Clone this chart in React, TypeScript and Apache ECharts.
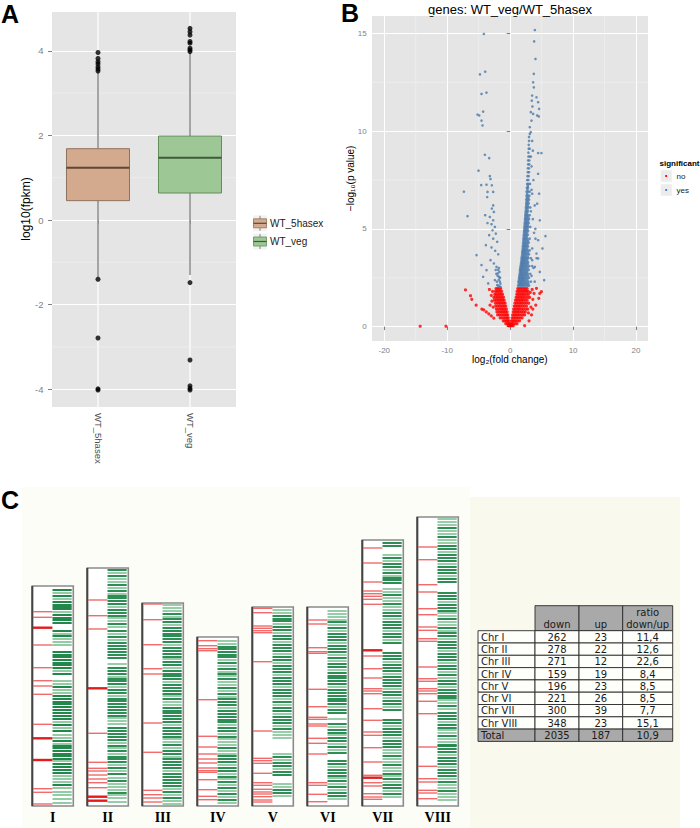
import React, { useEffect, useRef } from 'react';
import * as echarts from 'echarts';

// ---------- Panel A : boxplot ----------
const boxCategories = ['WT_5hasex', 'WT_veg'];
const boxLow = [-1.35, -1.3];
const boxQ1 = [0.457, 0.638];
const boxMedian = [1.236, 1.472];
const boxQ3 = [1.685, 1.984];
const boxHigh = [3.5, 3.95];
const outliers5hasex = [3.96, 3.82, 3.74, 3.69, 3.62, 3.57, 3.52, -1.4, -2.79, -3.99, -4.02];
const outliersVeg = [4.53, 4.45, 4.37, 4.22, 4.18, 4.06, 4.02, 3.98, -1.48, -3.31, -3.92, -3.98, -4.02];
const boxMinorTicks = [3, 1, -1, -3];

// ---------- Panel B : volcano ----------
const volcanoNo: number[][] = [
  [0.05,0.05],[0.15,0.05],[0.3,0.05],[0.5,0.05],
  [0.1,0.15],[0.3,0.15],[0.5,0.15],[0.8,0.15],[1.1,0.15],
  [0.2,0.3],[0.4,0.3],[0.65,0.3],[0.9,0.3],[1.2,0.3],[1.5,0.3],
  [0.3,0.45],[0.55,0.45],[0.8,0.45],[1.05,0.45],[1.3,0.45],[1.6,0.45],[1.9,0.45],
  [0.4,0.6],[0.65,0.6],[0.9,0.6],[1.15,0.6],[1.4,0.6],[1.7,0.6],[2.0,0.6],[2.3,0.6],
  [0.5,0.75],[0.75,0.75],[1.0,0.75],[1.25,0.75],[1.5,0.75],[1.8,0.75],[2.1,0.75],[2.4,0.75],
  [0.55,0.9],[0.8,0.9],[1.05,0.9],[1.3,0.9],[1.55,0.9],[1.85,0.9],[2.15,0.9],[2.5,0.9],[2.8,0.9],
  [0.65,1.05],[0.9,1.05],[1.15,1.05],[1.4,1.05],[1.65,1.05],[1.95,1.05],[2.25,1.05],[2.6,1.05],
  [0.75,1.2],[1.0,1.2],[1.25,1.2],[1.5,1.2],[1.75,1.2],[2.0,1.2],[2.3,1.2],[2.6,1.2],[2.95,1.2],
  [0.85,1.35],[1.1,1.35],[1.35,1.35],[1.6,1.35],[1.85,1.35],[2.1,1.35],[2.4,1.35],[2.7,1.35],
  [0.95,1.5],[1.2,1.5],[1.45,1.5],[1.7,1.5],[1.95,1.5],[2.2,1.5],[2.5,1.5],[2.8,1.5],[3.1,1.5],
  [1.05,1.65],[1.3,1.65],[1.55,1.65],[1.8,1.65],[2.05,1.65],[2.3,1.65],[2.6,1.65],[2.9,1.65],
  [1.1,1.8],[1.35,1.8],[1.6,1.8],[1.85,1.8],[2.1,1.8],[2.35,1.8],[2.6,1.8],[2.85,1.8],
  [1.2,1.95],[1.45,1.95],[1.7,1.95],[1.95,1.95],[2.2,1.95],[2.45,1.95],[2.7,1.95],
  [-0.05,0.05],[-0.15,0.05],[-0.3,0.05],
  [-0.1,0.15],[-0.25,0.15],[-0.45,0.15],[-0.7,0.15],
  [-0.2,0.3],[-0.4,0.3],[-0.6,0.3],[-0.85,0.3],[-1.1,0.3],
  [-0.3,0.45],[-0.5,0.45],[-0.75,0.45],[-1.0,0.45],[-1.3,0.45],[-1.6,0.45],
  [-0.4,0.6],[-0.6,0.6],[-0.85,0.6],[-1.1,0.6],[-1.4,0.6],[-1.7,0.6],[-2.0,0.6],
  [-0.5,0.75],[-0.75,0.75],[-1.0,0.75],[-1.25,0.75],[-1.5,0.75],[-1.8,0.75],[-2.1,0.75],
  [-0.6,0.9],[-0.85,0.9],[-1.1,0.9],[-1.35,0.9],[-1.6,0.9],[-1.9,0.9],[-2.2,0.9],
  [-0.7,1.05],[-0.95,1.05],[-1.2,1.05],[-1.45,1.05],[-1.7,1.05],[-2.0,1.05],[-2.3,1.05],
  [-0.8,1.2],[-1.05,1.2],[-1.3,1.2],[-1.55,1.2],[-1.8,1.2],[-2.05,1.2],[-2.35,1.2],
  [-0.95,1.35],[-1.2,1.35],[-1.45,1.35],[-1.7,1.35],[-1.95,1.35],[-2.2,1.35],[-2.5,1.35],
  [-1.05,1.5],[-1.3,1.5],[-1.55,1.5],[-1.8,1.5],[-2.05,1.5],[-2.3,1.5],[-2.6,1.5],
  [-1.2,1.65],[-1.45,1.65],[-1.7,1.65],[-1.95,1.65],[-2.2,1.65],[-2.45,1.65],
  [-1.35,1.8],[-1.6,1.8],[-1.85,1.8],[-2.1,1.8],[-2.35,1.8],
  [-1.5,1.95],[-1.75,1.95],[-2.0,1.95],[-2.25,1.95],
  [-14.3,0.02],[-10.2,0.02],[-7.1,1.88],[-6.3,1.58],[-6.1,1.4],[-5.4,1.1],[-4.5,0.9],[-4.2,0.86],
  [-3.8,0.75],[-3.4,0.65],[-3.0,0.55],[-2.6,0.43],[-3.0,1.6],[-3.3,1.9],[-2.9,1.3],[-3.2,1.1],
  [-2.7,1.0],[-2.8,1.8],[3.5,1.9],[3.6,1.4],[3.8,1.7],[4.18,1.96],[4.71,1.7],[4.97,1.79],
  [4.55,1.45],[4.07,1.1],[3.39,0.6],[3.0,0.3],[2.3,0.05],[3.3,1.0],[3.6,0.9],[2.9,0.7],[3.2,1.75],
];
const volcanoYes: number[][] = [
  [-4.18,14.97],[-4.8,12.9],[-3.97,13.04],[-4.55,11.9],[-3.76,11.97],[-4.29,11.0],[-5.19,10.85],
  [-4.92,10.8],[-4.55,10.54],[-4.39,10.29],[-4.02,8.79],[-3.33,8.62],[-5.03,7.98],[-7.35,6.9],
  [-6.77,5.65],[-5.34,3.66],[-3.23,7.7],[-3.12,7.55],[-4.6,7.24],[-3.76,7.26],[-2.91,7.23],
  [-3.6,6.89],[-2.7,6.89],[-3.65,6.63],[-2.7,6.2],[-2.91,6.04],[-2.59,5.87],[-3.97,5.7],
  [-3.23,5.61],[-2.7,5.44],[-3.6,5.3],[-2.96,5.24],[-2.43,5.1],[-2.8,4.93],[-2.28,4.76],
  [-3.33,4.68],[-2.7,4.5],[-2.06,4.34],[-3.86,4.17],[-2.96,4.05],[-2.38,3.88],[-1.9,3.7],
  [-4.55,3.15],[-3.76,2.89],[-3.12,3.4],[-2.59,3.23],[-2.17,3.06],[-1.96,2.72],[-1.75,2.55],
  [-2.43,2.38],[-1.64,2.3],[-2.06,2.13],[-1.53,2.04],[-3.49,2.21],[-4.29,2.55],
  [-1.9,2.9],[-1.7,2.8],[-2.0,2.6],[-1.6,2.5],[-1.8,2.4],[-2.1,2.3],[-1.55,2.2],[-1.9,2.1],
  [-1.7,2.05],[-2.2,2.7],[-1.8,3.0],[-2.3,2.9],
  [3.92,15.17],[3.81,14.59],[4.02,13.69],[3.76,12.93],[3.65,12.5],[3.76,12.24],[3.49,11.82],
  [4.18,11.73],[3.44,11.56],[4.44,11.48],[3.54,11.26],[4.6,11.14],[3.28,10.97],[3.65,10.88],
  [4.29,10.8],[4.55,10.75],[3.39,10.54],[3.12,10.2],[3.28,9.95],[3.12,9.86],
  [4.44,8.88],[4.97,8.88],[4.44,7.82],[4.6,6.8],[4.29,6.29],[4.71,5.44],[5.61,4.63],[4.02,4.5],
  [5.13,4.0],[4.44,3.49],[4.18,3.74],[5.4,2.38],[4.71,2.8],[3.92,3.06],[4.44,4.42],
  [3.4,2.6],[3.7,3.0],[3.5,4.0],[3.8,4.8],[3.6,5.5],[3.9,6.2],[3.5,6.8],[3.7,7.5],[3.4,8.2],
  [3.6,9.0],[4.0,5.0],[3.3,5.9],[4.2,3.5],[3.9,2.3],[3.5,3.4],[3.4,7.0],[3.5,9.5],[3.3,8.7],
  [1.25,2.1],[1.45,2.1],[1.65,2.1],[1.85,2.1],[2.05,2.1],[2.25,2.1],[2.5,2.1],[2.75,2.1],[3.0,2.1],
  [1.35,2.2],[1.55,2.2],[1.75,2.2],[1.95,2.2],[2.15,2.2],[2.4,2.2],[2.65,2.2],[2.9,2.2],
  [1.3,2.3],[1.5,2.3],[1.7,2.3],[1.9,2.3],[2.1,2.3],[2.35,2.3],[2.6,2.3],[2.9,2.3],[3.3,2.3],
  [1.4,2.4],[1.6,2.4],[1.8,2.4],[2.0,2.4],[2.2,2.4],[2.45,2.4],[2.75,2.4],
  [1.4,2.5],[1.6,2.5],[1.8,2.5],[2.0,2.5],[2.2,2.5],[2.45,2.5],[2.7,2.5],[3.0,2.5],
  [1.45,2.6],[1.65,2.6],[1.85,2.6],[2.05,2.6],[2.3,2.6],[2.55,2.6],[2.85,2.6],
  [1.5,2.7],[1.7,2.7],[1.9,2.7],[2.1,2.7],[2.3,2.7],[2.55,2.7],[2.8,2.7],[3.2,2.7],
  [1.55,2.8],[1.75,2.8],[1.95,2.8],[2.2,2.8],[2.45,2.8],[2.7,2.8],
  [1.55,2.9],[1.75,2.9],[1.95,2.9],[2.15,2.9],[2.4,2.9],[2.65,2.9],[2.95,2.9],
  [1.6,3.0],[1.8,3.0],[2.0,3.0],[2.25,3.0],[2.5,3.0],[2.8,3.0],
  [1.65,3.1],[1.85,3.1],[2.05,3.1],[2.25,3.1],[2.5,3.1],[2.75,3.1],[3.05,3.1],[3.5,3.1],
  [1.7,3.2],[1.9,3.2],[2.1,3.2],[2.3,3.2],[2.55,3.2],[2.8,3.2],
  [1.75,3.3],[1.95,3.3],[2.15,3.3],[2.35,3.3],[2.6,3.3],[2.85,3.3],
  [1.8,3.4],[2.0,3.4],[2.2,3.4],[2.45,3.4],[2.7,3.4],
  [1.8,3.5],[2.0,3.5],[2.2,3.5],[2.4,3.5],[2.65,3.5],[2.9,3.5],[3.3,3.5],
  [1.85,3.6],[2.05,3.6],[2.25,3.6],[2.5,3.6],[2.8,3.6],
  [1.9,3.7],[2.1,3.7],[2.3,3.7],[2.5,3.7],[2.75,3.7],[3.0,3.7],
  [1.9,3.8],[2.1,3.8],[2.3,3.8],[2.55,3.8],[2.85,3.8],
  [1.95,3.9],[2.15,3.9],[2.35,3.9],[2.55,3.9],[2.8,3.9],[3.1,3.9],
  [2.0,4.0],[2.2,4.0],[2.45,4.0],[2.7,4.0],
  [2.0,4.1],[2.2,4.1],[2.4,4.1],[2.6,4.1],[2.85,4.1],
  [2.05,4.2],[2.3,4.2],[2.5,4.2],[2.75,4.2],
  [2.05,4.3],[2.25,4.3],[2.45,4.3],[2.7,4.3],[2.95,4.3],
  [2.1,4.4],[2.35,4.4],[2.6,4.4],[2.85,4.4],
  [2.1,4.5],[2.3,4.5],[2.5,4.5],[2.75,4.5],[3.1,4.5],
  [2.15,4.6],[2.4,4.6],[2.65,4.6],
  [2.15,4.7],[2.35,4.7],[2.55,4.7],[2.8,4.7],
  [2.2,4.8],[2.45,4.8],[2.7,4.8],
  [2.2,4.9],[2.4,4.9],[2.6,4.9],[2.85,4.9],
  [2.25,5.0],[2.5,5.0],[2.75,5.0],
  [2.25,5.1],[2.45,5.1],[2.65,5.1],[2.9,5.1],[3.2,5.1],
  [2.3,5.2],[2.55,5.2],[2.8,5.2],
  [2.3,5.3],[2.5,5.3],[2.7,5.3],[2.95,5.3],
  [2.35,5.4],[2.6,5.4],[2.85,5.4],
  [2.35,5.5],[2.55,5.5],[2.75,5.5],[3.0,5.5],
  [2.4,5.6],[2.65,5.6],[2.9,5.6],
  [2.4,5.7],[2.6,5.7],[2.8,5.7],[3.1,5.7],
  [2.45,5.8],[2.7,5.8],
  [2.45,5.9],[2.65,5.9],[2.85,5.9],
  [2.5,6.0],[2.75,6.0],
  [2.5,6.1],[2.7,6.1],[2.9,6.1],[3.2,6.1],
  [2.55,6.2],[2.8,6.2],
  [2.55,6.3],[2.75,6.3],[2.95,6.3],
  [2.6,6.4],[2.85,6.4],
  [2.55,6.5],[2.75,6.5],[3.0,6.5],
  [2.65,6.6],[2.9,6.6],
  [2.6,6.7],[2.8,6.7],[3.05,6.7],
  [2.7,6.8],
  [2.6,6.9],[2.85,6.9],[3.1,6.9],
  [2.75,7.0],
  [2.65,7.1],[2.85,7.1],
  [2.8,7.2],
  [2.7,7.3],[2.9,7.3],[3.15,7.3],
  [2.7,7.5],[2.9,7.5],[2.75,7.7],[2.95,7.7],[2.8,7.9],[3.0,7.9],[2.8,8.1],[3.0,8.1],
  [2.85,8.3],[3.05,8.3],[2.85,8.5],[3.05,8.5],[2.9,8.7],[3.1,8.7],[2.9,8.9],
  [2.95,9.1],[3.1,9.1],[2.95,9.3],[3.0,9.5],[3.0,9.7],
];
const volcanoMinorY = [2.5, 7.5, 12.5];
const volcanoMinorX = [-15, -5, 5, 15];

// ---------- Panel C : chromosomes ----------
const chrNames = ['I', 'II', 'III', 'IV', 'V', 'VI', 'VII', 'VIII'];
const chrLength = [220, 238, 203, 169, 199, 199, 266, 289];
const redPos: number[][] = [
  [194.3, 188.7, 161, 138.3, 125.3, 120, 111.7, 81.7, 17.3, 13.7, 2],
  [206, 190.3, 177, 72.7, 43.7, 37.7, 35, 31, 27, 23.3, 18.3],
  [202, 186.3, 161.3, 137.3, 132, 83, 53.7, 15.7, 11.3, 8, 4],
  [165.3, 160.3, 157.3, 155.3, 106.3, 69.7, 59, 52, 47, 43, 38, 35.3, 33.7, 26.3, 16.3, 9.7, 6.3],
  [197.7, 193.3, 180, 177.7, 175.3, 173.3, 144.3, 75, 47.7, 45.3, 42.7, 32.7, 23.3, 20.7, 16.7, 14, 12, 9.3, 6, 4],
  [186, 182, 158.3, 154.3, 152.7, 116.7, 99.3, 88.7, 86.7, 82, 80, 67.7, 62.7, 52, 23.3, 20.7, 11.7, 4.3],
  [258, 243, 224, 215, 212.3, 209.7, 206.7, 201.7, 150, 137.3, 128, 117.3, 115, 112.3, 97.3, 85.7, 74, 70.7, 58.3, 44, 30.7, 23.3, 20, 12.3, 9, 6.7],
  [259, 246.3, 221.3, 214, 197.3, 191.3, 179, 175.7, 167.3, 164.7, 139, 127.3, 124.7, 117.3, 115, 112.3, 104.7, 92.3, 59, 39.7, 27.3, 24, 15.7, 13, 7.3],
];
const redStrong: number[][] = [
  [178.3, 67.7, 46], [117.7, 9.3, 5.3], [], [], [], [], [155.7, 28.3], [],
];
const greenDark: number[][] = [
  [216, 210, 204, 201, 199, 197, 191, 188, 186, 183, 175, 170, 154, 151, 149, 146, 143, 141, 138, 132, 119, 110, 107, 104, 102, 99, 96, 93, 90, 87, 81, 75, 65, 60, 58, 55, 52, 50, 47, 42, 39, 36, 33, 21],
  [236, 230, 221, 215, 210, 208, 205, 202, 196, 193, 190, 182, 175, 169, 163, 160, 157, 154, 151, 148, 138, 135, 132, 127, 125, 122, 116, 113, 107, 105, 102, 99, 96, 93, 90, 78, 75, 72, 69, 66, 60, 55, 49, 47, 44, 38, 32, 25, 13],
  [192, 187, 184, 178, 175, 172, 170, 167, 164, 158, 155, 152, 149, 144, 141, 135, 132, 130, 127, 121, 118, 115, 112, 107, 98, 95, 93, 90, 87, 84, 78, 75, 72, 69, 61, 55, 52, 47, 44, 41, 38, 32, 29, 26, 23, 20, 14, 8],
  [159, 157, 154, 151, 149, 143, 137, 132, 127, 118, 112, 107, 104, 101, 95, 92, 89, 86, 84, 78, 75, 69, 58, 50, 47, 44, 38, 35, 29, 24, 18, 12, 6],
  [190, 187, 185, 179, 176, 170, 167, 161, 158, 155, 149, 146, 140, 137, 134, 128, 125, 122, 116, 113, 110, 104, 98, 95, 89, 86, 83, 77, 49, 43, 40, 34, 31, 16, 13],
  [184, 178, 172, 169, 166, 160, 157, 154, 148, 142, 139, 133, 130, 128, 125, 122, 116, 113, 110, 107, 105, 102, 96, 93, 82, 76, 73, 68, 65, 59, 53, 45, 42, 36, 33, 30, 25, 19, 13, 10],
  [263, 260, 248, 242, 239, 233, 228, 226, 223, 211, 202, 193, 190, 184, 181, 178, 172, 169, 163, 153, 150, 147, 141, 138, 135, 129, 126, 123, 120, 114, 111, 105, 102, 96, 86, 83, 77, 74, 71, 65, 62, 59, 50, 41, 32, 27, 21, 18, 12],
  [278, 269, 260, 257, 251, 248, 245, 239, 236, 233, 227, 224, 213, 210, 207, 201, 198, 195, 187, 178, 173, 170, 164, 161, 158, 152, 149, 146, 140, 137, 131, 125, 122, 116, 113, 110, 108, 100, 93, 90, 87, 81, 78, 70, 61, 60, 57, 54, 48, 45, 42, 36, 33, 30, 24, 15],
];
const greenLight: number[][] = [
  [213, 207, 194, 172, 167, 164, 161, 135, 125, 122, 116, 113, 84, 78, 71, 68, 62, 45, 30, 27, 24, 18, 14, 11, 7, 3],
  [233, 227, 224, 218, 212, 199, 188, 185, 179, 172, 166, 142, 129, 119, 110, 88, 85, 82, 63, 58, 52, 41, 35, 28, 22, 19, 16, 11, 8, 4],
  [201, 198, 195, 189, 181, 161, 147, 138, 124, 110, 104, 101, 81, 67, 64, 58, 49, 35, 17, 11, 5, 2],
  [165, 162, 146, 140, 134, 130, 124, 121, 115, 109, 98, 81, 72, 67, 64, 61, 55, 52, 41, 32, 27, 21, 15, 9, 3],
  [196, 193, 182, 173, 164, 152, 143, 131, 119, 107, 101, 92, 80, 74, 71, 68, 52, 46, 37, 22, 19, 10],
  [195, 192, 189, 186, 181, 175, 163, 151, 145, 136, 119, 99, 87, 79, 71, 62, 56, 39, 28, 22, 16, 7],
  [251, 245, 236, 230, 217, 214, 208, 205, 199, 196, 187, 175, 166, 144, 132, 117, 108, 99, 80, 68, 56, 53, 47, 44, 38, 35, 30, 24, 15, 9],
  [287, 284, 281, 275, 272, 266, 263, 254, 242, 230, 204, 193, 190, 184, 181, 175, 167, 155, 143, 134, 128, 119, 106, 103, 97, 84, 76, 73, 67, 64, 51, 39, 27, 21, 18, 12, 9, 6],
];

// ---------- Table ----------
const tableRowLabels = ['Chr I', 'Chr II', 'Chr III', 'Chr IV', 'Chr V', 'Chr VI', 'Chr VII', 'Chr VIII', 'Total'];
const tableDown = [262, 278, 271, 159, 196, 221, 300, 348, 2035];
const tableUp = [23, 22, 12, 19, 23, 26, 39, 23, 187];
const tableRatio = ['11,4', '12,6', '22,6', '8,4', '8,5', '8,5', '7,7', '15,1', '10,9'];

const SANS = 'Liberation Sans, Arial, Helvetica, sans-serif';
const VERDANA = 'DejaVu Sans, Verdana, sans-serif';
const SERIF = 'Liberation Serif, Times New Roman, serif';

const boxFill = ['#d3aa8d', '#9dc795'];
const boxStroke = ['#8f725e', '#628e5b'];
const boxMed = ['#5f4636', '#3c5d38'];

function hLineRender(color: string, width: number) {
  return (params: any, api: any) => {
    const cs = params.coordSys;
    const y = api.coord([api.value(0), api.value(1)])[1];
    return { type: 'line', shape: { x1: cs.x, y1: y, x2: cs.x + cs.width, y2: y }, style: { stroke: color, lineWidth: width } };
  };
}
function vLineRender(color: string, width: number) {
  return (params: any, api: any) => {
    const cs = params.coordSys;
    const x = api.coord([api.value(0), api.value(1)])[0];
    return { type: 'line', shape: { x1: x, y1: cs.y, x2: x, y2: cs.y + cs.height }, style: { stroke: color, lineWidth: width } };
  };
}

function buildGraphic() {
  const g: any[] = [];
  g.push({ type: 'rect', z: -5, shape: { x: 22, y: 487, width: 448, height: 341 }, style: { fill: '#fdfdf7' } });
  g.push({ type: 'rect', z: -5, shape: { x: 470, y: 497, width: 210, height: 331 }, style: { fill: '#f9f9ed' } });
  const letter = (t: string, x: number, y: number) => ({
    type: 'text', x, y, style: { text: t, fill: '#000', fontSize: 25, fontWeight: 'bold', fontFamily: SANS, align: 'left', verticalAlign: 'middle' },
  });
  g.push(letter('A', 1, 14), letter('B', 341, 13), letter('C', 1, 500));
  g.push({ type: 'text', x: 510, y: 9, style: { text: 'genes: WT_veg/WT_5hasex', fill: '#000', fontSize: 13, fontFamily: SANS, align: 'center', verticalAlign: 'middle' } });
  [0, 1].forEach((i) => {
    const cy = i === 0 ? 223.3 : 241.5;
    g.push({ type: 'rect', shape: { x: 253, y: cy - 8, width: 14, height: 16 }, style: { fill: '#f2f2f2' } });
    g.push({ type: 'line', shape: { x1: 260, y1: cy - 7.5, x2: 260, y2: cy + 7.5 }, style: { stroke: '#666', lineWidth: 0.8 } });
    g.push({ type: 'rect', shape: { x: 253.5, y: cy - 4.5, width: 13, height: 9 }, style: { fill: boxFill[i], stroke: boxStroke[i], lineWidth: 0.8 } });
    g.push({ type: 'line', shape: { x1: 253.5, y1: cy, x2: 266.5, y2: cy }, style: { stroke: boxMed[i], lineWidth: 1.2 } });
    g.push({ type: 'text', x: 270, y: cy, style: { text: boxCategories[i], fill: '#1a1a1a', fontSize: 10, fontFamily: SANS, align: 'left', verticalAlign: 'middle' } });
  });
  g.push({ type: 'text', x: 659.5, y: 163.5, style: { text: 'significant', fill: '#000', fontSize: 8, fontWeight: 'bold', fontFamily: SANS, align: 'left', verticalAlign: 'middle' } });
  [['no', '#ff0000', 176], ['yes', '#4a79ab', 190]].forEach(([t, c, y]: any) => {
    g.push({ type: 'rect', shape: { x: 660.5, y: y - 6, width: 11.5, height: 12 }, style: { fill: '#ececec', stroke: '#fff', lineWidth: 0.5 } });
    g.push({ type: 'circle', shape: { cx: 666.2, cy: y, r: 1.1 }, style: { fill: c } });
    g.push({ type: 'text', x: 676.5, y, style: { text: t, fill: '#1a1a1a', fontSize: 8, fontFamily: SANS, align: 'left', verticalAlign: 'middle' } });
  });
  const colX = [478, 535, 579, 622.7, 672.7];
  const headTop = 605.7;
  const rowTop = 630.7;
  const rowH = 12.3;
  const tFont = { fontSize: 10, fontFamily: VERDANA, fill: '#1a1a1a', verticalAlign: 'middle' };
  for (let c = 1; c < 4; c++) {
    g.push({ type: 'rect', shape: { x: colX[c], y: headTop, width: colX[c + 1] - colX[c], height: rowTop - headTop }, style: { fill: '#a9a9a9', stroke: '#2a2a2a', lineWidth: 0.9 } });
  }
  g.push({ type: 'text', x: (colX[1] + colX[2]) / 2, y: 624, style: { ...tFont, text: 'down', align: 'center' } });
  g.push({ type: 'text', x: (colX[2] + colX[3]) / 2, y: 624, style: { ...tFont, text: 'up', align: 'center' } });
  g.push({ type: 'text', x: (colX[3] + colX[4]) / 2, y: 612.5, style: { ...tFont, text: 'ratio', align: 'center' } });
  g.push({ type: 'text', x: (colX[3] + colX[4]) / 2, y: 624, style: { ...tFont, text: 'down/up', align: 'center' } });
  tableRowLabels.forEach((lab, r) => {
    const y = rowTop + r * rowH;
    const fill = r === tableRowLabels.length - 1 ? '#a9a9a9' : '#fefefa';
    for (let c = 0; c < 4; c++) {
      g.push({ type: 'rect', shape: { x: colX[c], y, width: colX[c + 1] - colX[c], height: rowH }, style: { fill, stroke: '#2a2a2a', lineWidth: 0.9 } });
    }
    const cy = y + rowH / 2 + 0.3;
    g.push({ type: 'text', x: colX[0] + 3, y: cy, style: { ...tFont, text: lab, align: 'left' } });
    g.push({ type: 'text', x: (colX[1] + colX[2]) / 2, y: cy, style: { ...tFont, text: String(tableDown[r]), align: 'center' } });
    g.push({ type: 'text', x: (colX[2] + colX[3]) / 2, y: cy, style: { ...tFont, text: String(tableUp[r]), align: 'center' } });
    g.push({ type: 'text', x: (colX[3] + colX[4]) / 2, y: cy, style: { ...tFont, text: tableRatio[r], align: 'center' } });
  });
  return g;
}

function buildOption() {
  const boxData = boxCategories.map((_, i) => [i, boxLow[i], boxQ1[i], boxMedian[i], boxQ3[i], boxHigh[i]]);
  const outlierData = [
    ...outliers5hasex.map((v) => [0, v]),
    ...outliersVeg.map((v) => [1, v]),
  ];
  const chrBoxData = chrLength.map((l, i) => [i, l]);
  const greenData: number[][] = [];
  greenDark.forEach((arr, i) => arr.forEach((p) => greenData.push([i, p, 1])));
  greenLight.forEach((arr, i) => arr.forEach((p) => greenData.push([i, p, 0])));
  const redData: number[][] = [];
  redPos.forEach((arr, i) => arr.forEach((p) => redData.push([i, p, 0])));
  redStrong.forEach((arr, i) => arr.forEach((p) => redData.push([i, p, 1])));

  const tickLabel = { color: '#7f7f7f', fontFamily: SANS };

  return {
    animation: false,
    backgroundColor: '#ffffff',
    grid: [
      { left: 52, top: 11, width: 184, height: 396, show: true, backgroundColor: '#e5e5e5', borderWidth: 0, borderColor: 'transparent' },
      { left: 371.7, top: 15, width: 276.3, height: 326.7, show: true, backgroundColor: '#e5e5e5', borderWidth: 0, borderColor: 'transparent' },
      { left: 25.3, top: 511, width: 440, height: 295, show: false },
    ],
    xAxis: [
      {
        type: 'category', gridIndex: 0, data: boxCategories, boundaryGap: true,
        axisLine: { show: false },
        axisTick: { show: true, alignWithLabel: true, length: 4, lineStyle: { color: '#7f7f7f' } },
        axisLabel: { ...tickLabel, color: '#4d4d4d', rotate: -90, fontSize: 9.5, margin: 6 },
        splitLine: { show: false },
      },
      {
        type: 'value', gridIndex: 1, min: -22, max: 21.9, splitNumber: 4,
        axisLine: { show: false },
        axisTick: { show: true, length: 3.5, lineStyle: { color: '#7f7f7f' } },
        axisLabel: { ...tickLabel, fontSize: 8, margin: 5, showMinLabel: false, showMaxLabel: false },
        splitLine: { show: true, lineStyle: { color: '#ffffff', width: 1 } },
        name: 'log₂(fold change)', nameLocation: 'middle', nameGap: 13, nameMoveOverlap: false,
        nameTextStyle: { color: '#000', fontSize: 10, fontFamily: SANS },
      },
      {
        type: 'category', gridIndex: 2, data: chrNames, boundaryGap: true,
        axisLine: { show: false }, axisTick: { show: false }, splitLine: { show: false },
        axisLabel: { color: '#000', fontFamily: SERIF, fontWeight: 'bold', fontSize: 14, margin: 4 },
      },
    ],
    yAxis: [
      {
        type: 'value', gridIndex: 0, min: -4.42, max: 4.94, splitNumber: 5,
        axisLine: { show: false },
        axisTick: { show: true, length: 4, lineStyle: { color: '#7f7f7f' } },
        axisLabel: { ...tickLabel, fontSize: 9.5, margin: 8.5, showMinLabel: false, showMaxLabel: false },
        splitLine: { show: true, lineStyle: { color: '#ffffff', width: 1.2 } },
        name: 'log10(fpkm)', nameLocation: 'middle', nameGap: 20, nameRotate: 90, nameMoveOverlap: false,
        nameTextStyle: { color: '#000', fontSize: 12, fontFamily: SANS },
      },
      {
        type: 'value', gridIndex: 1, min: -0.77, max: 15.94, splitNumber: 4,
        axisLine: { show: false },
        axisTick: { show: true, length: 3.5, lineStyle: { color: '#7f7f7f' } },
        axisLabel: { ...tickLabel, fontSize: 8, margin: 5, showMinLabel: false, showMaxLabel: false },
        splitLine: { show: true, lineStyle: { color: '#ffffff', width: 1 } },
        name: '−log₁₀(p value)', nameLocation: 'middle', nameGap: 16, nameRotate: 90, nameMoveOverlap: false,
        nameTextStyle: { color: '#000', fontSize: 10, fontFamily: SANS },
      },
      { type: 'value', gridIndex: 2, min: 0, max: 295, show: false },
    ],
    graphic: buildGraphic(),
    series: [
      {
        type: 'custom', name: 'gridA-v', xAxisIndex: 0, yAxisIndex: 0, z: 1, silent: true,
        encode: { x: 0, y: 1 }, data: boxCategories.map((_, i) => [i, 0]),
        renderItem: vLineRender('#ffffff', 1.2),
      },
      {
        type: 'custom', name: 'gridA-minor', xAxisIndex: 0, yAxisIndex: 0, z: 1, silent: true,
        encode: { x: 0, y: 1 }, data: boxMinorTicks.map((v) => [0, v]),
        renderItem: hLineRender('#f2f2f2', 0.6),
      },
      {
        type: 'custom', name: 'boxes', xAxisIndex: 0, yAxisIndex: 0, z: 3,
        encode: { x: 0, y: [1, 2, 3, 4, 5] }, data: boxData,
        renderItem: (params: any, api: any) => {
          const i = api.value(0);
          const lo = api.coord([i, api.value(1)]);
          const q1 = api.coord([i, api.value(2)]);
          const md = api.coord([i, api.value(3)]);
          const q3 = api.coord([i, api.value(4)]);
          const hi = api.coord([i, api.value(5)]);
          const bw = api.size([1, 0])[0] * 0.685;
          const x = q1[0];
          return {
            type: 'group',
            children: [
              { type: 'line', shape: { x1: x, y1: hi[1], x2: x, y2: q3[1] }, style: { stroke: '#555', lineWidth: 1 } },
              { type: 'line', shape: { x1: x, y1: q1[1], x2: x, y2: lo[1] }, style: { stroke: '#555', lineWidth: 1 } },
              { type: 'rect', shape: { x: x - bw / 2, y: q3[1], width: bw, height: q1[1] - q3[1] }, style: { fill: boxFill[i], stroke: boxStroke[i], lineWidth: 1 } },
              { type: 'line', shape: { x1: x - bw / 2, y1: md[1], x2: x + bw / 2, y2: md[1] }, style: { stroke: boxMed[i], lineWidth: 2 } },
            ],
          };
        },
      },
      {
        type: 'scatter', name: 'outliers', xAxisIndex: 0, yAxisIndex: 0, z: 4,
        data: outlierData, symbolSize: 5, itemStyle: { color: '#000' },
      },
      {
        type: 'custom', name: 'gridB-minorY', xAxisIndex: 1, yAxisIndex: 1, z: 1, silent: true,
        encode: { x: 0, y: 1 }, data: volcanoMinorY.map((v) => [0, v]),
        renderItem: hLineRender('#f2f2f2', 0.6),
      },
      {
        type: 'custom', name: 'gridB-minorX', xAxisIndex: 1, yAxisIndex: 1, z: 1, silent: true,
        encode: { x: 0, y: 1 }, data: volcanoMinorX.map((v) => [v, 0]),
        renderItem: vLineRender('#f2f2f2', 0.6),
      },
      {
        type: 'scatter', name: 'no', xAxisIndex: 1, yAxisIndex: 1, z: 3,
        data: volcanoNo, symbolSize: 3.2, itemStyle: { color: '#ff0000' },
      },
      {
        type: 'scatter', name: 'yes', xAxisIndex: 1, yAxisIndex: 1, z: 3,
        data: volcanoYes, symbolSize: 2.6, itemStyle: { color: '#4a79ab' },
      },
      {
        type: 'custom', name: 'chromosomes', xAxisIndex: 2, yAxisIndex: 2, z: 2,
        encode: { x: 0, y: 1 }, data: chrBoxData,
        renderItem: (params: any, api: any) => {
          const i = api.value(0);
          const b = api.coord([i, 0]);
          const t = api.coord([i, api.value(1)]);
          const w = 41;
          return {
            type: 'group',
            children: [
              { type: 'rect', shape: { x: b[0] - w / 2, y: t[1], width: w, height: b[1] - t[1] }, style: { fill: '#ffffff', stroke: '#8a8a8a', lineWidth: 1.6 } },
              { type: 'line', shape: { x1: b[0] - w / 2, y1: t[1], x2: b[0] - w / 2, y2: b[1] }, style: { stroke: '#444', lineWidth: 2 } },
            ],
          };
        },
      },
      {
        type: 'custom', name: 'down', xAxisIndex: 2, yAxisIndex: 2, z: 3,
        encode: { x: 0, y: 1 }, data: greenData,
        renderItem: (params: any, api: any) => {
          const c = api.coord([api.value(0), api.value(1)]);
          const dark = api.value(2) === 1;
          return { type: 'rect', shape: { x: c[0] - 0.3, y: c[1] - 0.95, width: 19.2, height: 1.9 }, style: { fill: dark ? '#23874b' : '#93cba5' } };
        },
      },
      {
        type: 'custom', name: 'up', xAxisIndex: 2, yAxisIndex: 2, z: 3,
        encode: { x: 0, y: 1 }, data: redData,
        renderItem: (params: any, api: any) => {
          const c = api.coord([api.value(0), api.value(1)]);
          const strong = api.value(2) === 1;
          const h = strong ? 2.4 : 1.4;
          return { type: 'rect', shape: { x: c[0] - 19.8, y: c[1] - h / 2, width: 19.4, height: h }, style: { fill: strong ? '#e31b1b' : '#f26a6a' } };
        },
      },
    ],
  };
}

export default function App() {
  const ref = useRef<HTMLDivElement>(null);
  useEffect(() => {
    document.body.style.margin = '0';
    const chart = echarts.init(ref.current as HTMLDivElement, null, { renderer: 'svg' });
    chart.setOption(buildOption() as any);
    return () => chart.dispose();
  }, []);
  return <div ref={ref} style={{ width: 700, height: 828 }} />;
}
